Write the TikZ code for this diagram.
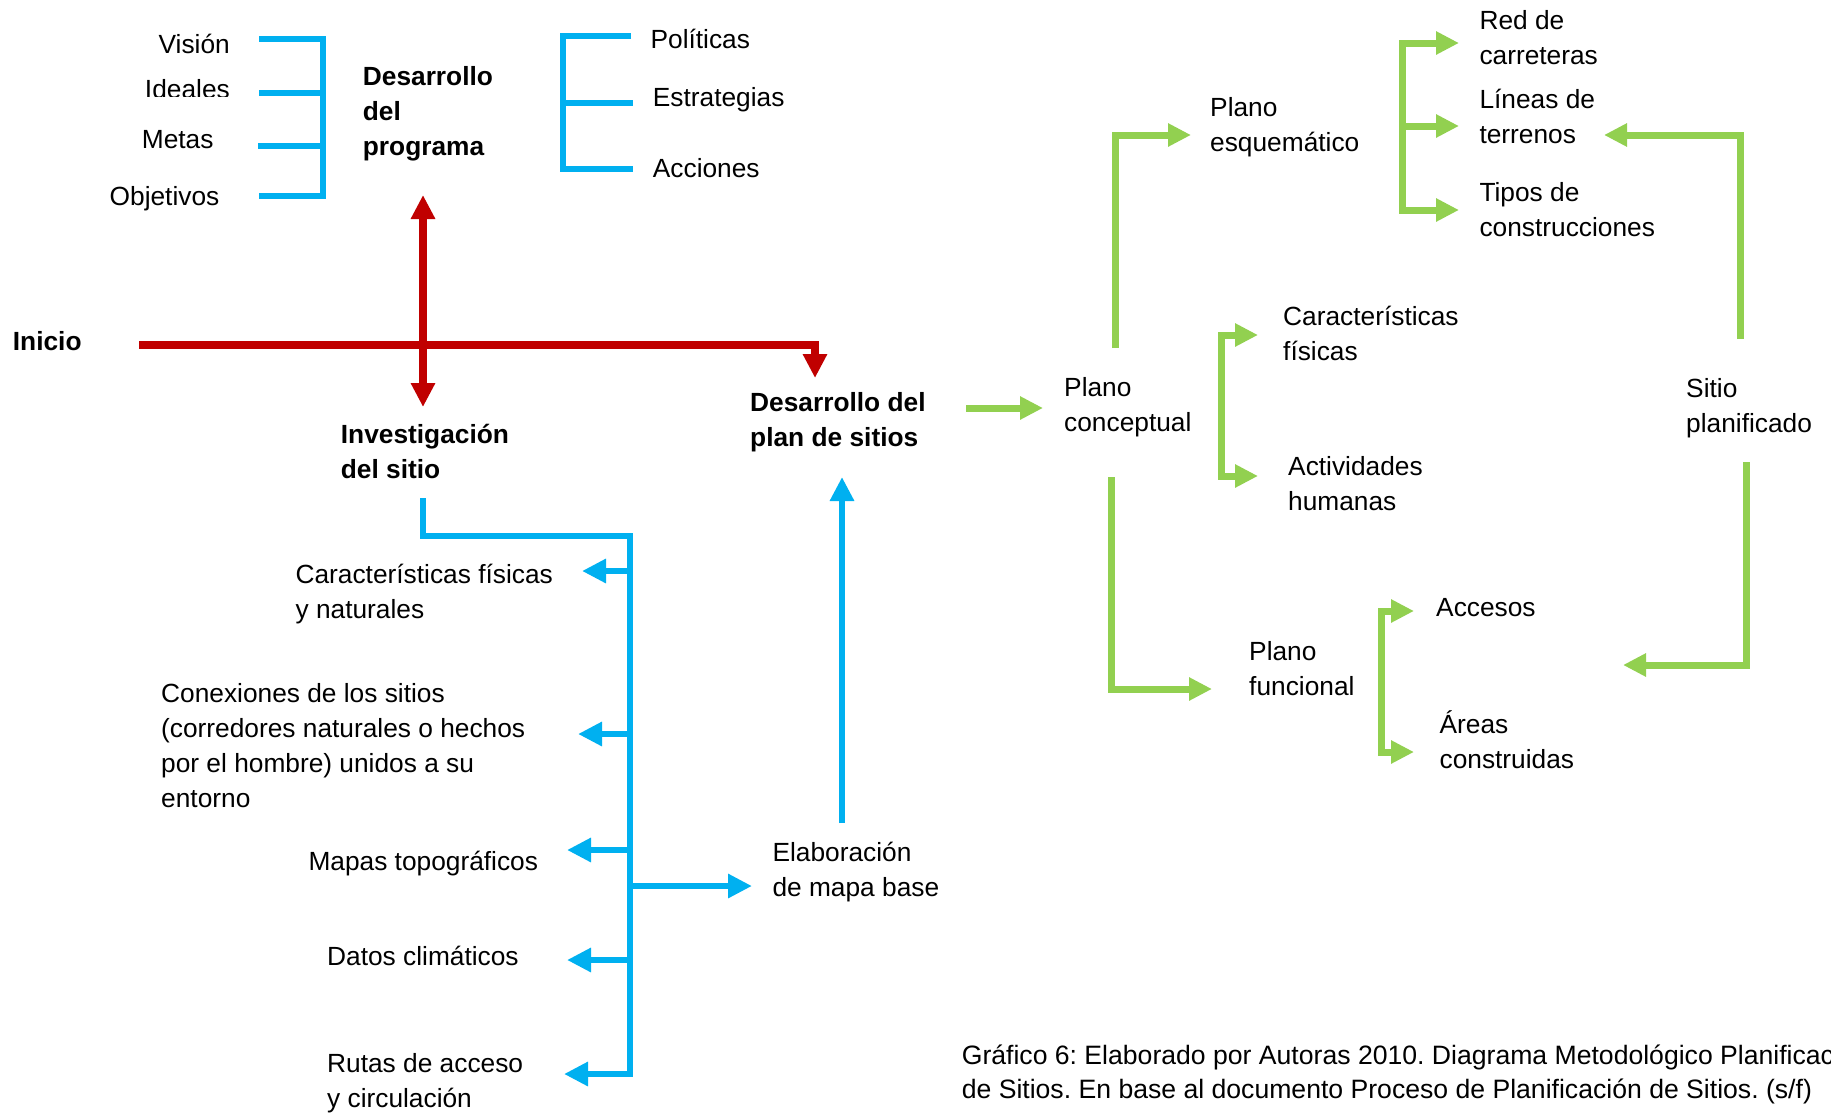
\documentclass[tikz,border=0pt]{standalone}
\usepackage{fontspec}
\setmainfont{Liberation Sans}
\usetikzlibrary{arrows.meta}
\frenchspacing

\definecolor{rojo}{HTML}{C00000}
\definecolor{azul}{HTML}{00B0F0}
\definecolor{verde}{HTML}{92D050}

\tikzset{
  puntaa/.tip={Triangle[width=23pt,length=24pt]},
  puntav/.tip={Triangle[width=22pt,length=23pt]},
  txt/.style={anchor=base west, inner sep=0pt, align=left, font=\fontsize{26.3}{35}\selectfont},
  txtder/.style={txt, anchor=base east, align=right},
  negrita/.style={txt, font=\fontsize{26.3}{35}\selectfont\bfseries},
  linearoja/.style={draw=rojo, line width=8pt},
  lineaazul/.style={draw=azul, line width=6.5pt},
  lineaverde/.style={draw=verde, line width=7pt}
}

\begin{document}
\begin{tikzpicture}[x=1pt, y=-1pt]
    \useasboundingbox (0,0) rectangle (1831,1114);
    \clip (0,0) rectangle (1831,1114);

    % inicio y ejes rojos
    \node[negrita] (inicio) at (12.7,350) {Inicio};
    \coordinate (ini) at (139,345);
    \coordinate (esq) at (815,345);
    \coordinate (bajaplan) at (815,378);
    \coordinate (subeprog) at (423,195);
    \coordinate (bajainv) at (423,407);
    \draw[linearoja, -puntaa] (ini) -- (esq) -- (bajaplan);
    \draw[linearoja, puntaa-puntaa] (subeprog) -- (bajainv);

    % desarrollo del programa
    \node[negrita] (programa) at (362.7,155) {Desarrollo\\del\\programa};
    \node[txtder] (vision) at (230,53) {Visión};
    \begin{scope}
        \clip (140,60) rectangle (240,96);
        \node[txtder] (ideales) at (230,98.6) {Ideales};
    \end{scope}
    \node[txtder] (metas) at (213.7,148.3) {Metas};
    \node[txtder] (objetivos) at (219.5,205) {Objetivos};
    \draw[lineaazul] (259,39) -- (323,39) -- (323,196) -- (259,196);
    \draw[lineaazul] (259,93) -- (323,93);
    \draw[lineaazul] (258,146) -- (323,146);

    \node[txt] (politicas) at (650.4,48.5) {Políticas};
    \node[txt] (estrategias) at (652.7,106.5) {Estrategias};
    \node[txt] (acciones) at (652.7,177) {Acciones};
    \draw[lineaazul] (631,36) -- (563,36) -- (563,169) -- (633,169);
    \draw[lineaazul] (563,103) -- (633,103);

    % investigacion del sitio
    \node[negrita] (investigacion) at (340.7,478) {Investigación\\del sitio};
    \node[txt] (fisicas) at (295.4,618) {Características físicas\\y naturales};
    \node[txt] (conexiones) at (161,807) {Conexiones de los sitios\\(corredores naturales o hechos\\por el hombre) unidos a su\\entorno};
    \node[txt] (mapas) at (308.3,870) {Mapas topográficos};
    \node[txt] (datos) at (327,965) {Datos climáticos};
    \node[txt] (rutas) at (327,1107) {Rutas de acceso\\y circulación};
    \node[txt] (mapabase) at (772.3,896.7) {Elaboración\\de mapa base};

    \coordinate (inv0) at (423,498);
    \coordinate (inv1) at (423,536);
    \coordinate (tronco) at (630,536);
    \coordinate (troncofin) at (630,1074);
    \draw[lineaazul, -puntaa] (inv0) -- (inv1) -- (tronco) -- (troncofin) -- (564,1074);
    \draw[lineaazul, -puntaa] (630,571) -- (582,571);
    \draw[lineaazul, -puntaa] (630,734) -- (578,734);
    \draw[lineaazul, -puntaa] (630,850) -- (567,850);
    \draw[lineaazul, -puntaa] (630,960) -- (567,960);
    \draw[lineaazul, -puntaa] (633,886) -- (752,886);
    \coordinate (base0) at (842,823);
    \coordinate (base1) at (842,477);
    \draw[lineaazul, -puntaa] (base0) -- (base1);

    % desarrollo del plan de sitios
    \node[negrita] (plan) at (750,446.5) {Desarrollo del\\plan de sitios};
    \node[txt] (conceptual) at (1064,431.5) {Plano\\conceptual};
    \draw[lineaverde, -puntav] (966,408) -- (1043,408);

    % plano esquematico
    \node[txt] (esquematico) at (1210,151.7) {Plano\\esquemático};
    \draw[lineaverde, -puntav] (1115,348) -- (1115,135) -- (1191,135);
    \node[txt] (red) at (1479.3,64) {Red de\\carreteras};
    \node[txt] (lineas) at (1479.3,143.3) {Líneas de\\terrenos};
    \node[txt] (tipos) at (1479.3,236.7) {Tipos de\\construcciones};
    \draw[lineaverde, -puntav] (1402,126) -- (1459,126);
    \draw[lineaverde, puntav-puntav] (1459,43) -- (1402,43) -- (1402,210) -- (1459,210);

    % caracteristicas y actividades
    \node[txt] (fisicasv) at (1283,360.7) {Características\\físicas};
    \node[txt] (actividades) at (1288,510) {Actividades\\humanas};
    \draw[lineaverde, puntav-puntav] (1258,335) -- (1221,335) -- (1221,476) -- (1258,476);

    % plano funcional
    \node[txt] (funcional) at (1249,695) {Plano\\funcional};
    \draw[lineaverde, -puntav] (1111,477) -- (1111,689) -- (1212,689);
    \node[txt] (accesos) at (1436,616.7) {Accesos};
    \node[txt] (areas) at (1439.4,768) {Áreas\\construidas};
    \draw[lineaverde, puntav-puntav] (1414,611) -- (1381,611) -- (1381,752) -- (1414,752);

    % sitio planificado
    \node[txt] (sitio) at (1686,432.7) {Sitio\\planificado};
    \draw[lineaverde, -puntav] (1740,339) -- (1740,135) -- (1604,135);
    \draw[lineaverde, -puntav] (1746,462) -- (1746,665) -- (1623,665);

    % fuente
    \node[txt, font=\fontsize{26.6}{34}\selectfont] (fuente) at (961.6,1098) {Gráfico 6: Elaborado por Autoras 2010. Diagrama Metodológico Planificación\\de Sitios. En base al documento Proceso de Planificación de Sitios. (s/f)};
\end{tikzpicture}
\end{document}
